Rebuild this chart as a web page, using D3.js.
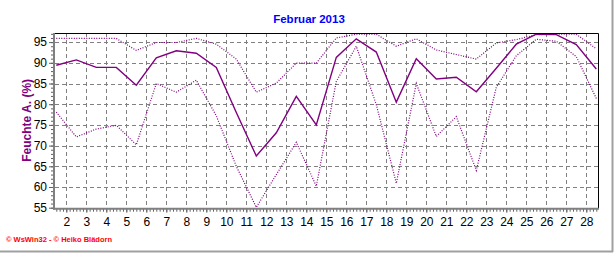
<!DOCTYPE html>
<html>
<head>
<meta charset="utf-8">
<script src="https://cdn.jsdelivr.net/npm/d3@7"></script>
<style>
  body { margin: 0; background: #fff; }
  svg { display: block; font-family: "Liberation Sans", Arial, sans-serif; }
</style>
</head>
<body>
<svg width="616" height="253"></svg>
<script>
const days = [1, 2, 3, 4, 5, 6, 7, 8, 9, 10, 11, 12, 13, 14,
              15, 16, 17, 18, 19, 20, 21, 22, 23, 24, 25, 26, 27, 28];
const humMean = [89.4, 90.7, 88.9, 88.9, 84.6, 91.2, 92.9, 92.3, 88.9, 78.0, 67.5, 73.1, 81.9, 75.0,
                 91.3, 95.8, 92.6, 80.5, 91.0, 86.1, 86.5, 83.0, 88.7, 94.5, 96.9, 96.8, 94.4, 88.5];
const humMax = [95.9, 95.9, 95.9, 95.9, 93.0, 94.9, 94.9, 95.9, 94.5, 90.9, 82.9, 85.1, 89.9, 89.9,
                96.0, 96.9, 96.9, 94.0, 95.8, 93.1, 92.0, 90.9, 94.8, 95.6, 96.8, 96.9, 96.9, 93.4];
const humMin = [78.1, 72.1, 74.0, 74.9, 70.2, 85.0, 82.9, 85.8, 77.2, 65.0, 55.1, 63.0, 70.8, 60.2,
                85.5, 94.0, 79.9, 60.9, 85.0, 72.2, 77.0, 64.0, 84.1, 91.7, 95.7, 95.2, 91.5, 81.4];
const xTicks = [2, 3, 4, 5, 6, 7, 8, 9, 10, 11, 12, 13, 14, 15,
                16, 17, 18, 19, 20, 21, 22, 23, 24, 25, 26, 27, 28];
const yTicks = [55, 60, 65, 70, 75, 80, 85, 90, 95];
const title = 'Februar 2013';
const yAxisLabel = 'Feuchte A. (%)';
const footer = '\u00a9 WsWin32  -  \u00a9 Heiko Bl\u00e4dorn';

(function (d3) {
  'use strict';

  const svg = d3.select('svg');
  const left = 55, right = 598, top = 33, bottom = 207.7;

  const xScale = d3.scaleLinear().domain([1.435, 28.585]).range([left, right]);
  const yScale = d3.scaleLinear().domain([55, 97.2]).range([bottom, top]);

  // outer frame of the picture
  svg.append('line').attr('x1', 612.5).attr('x2', 612.5).attr('y1', 0).attr('y2', 252)
    .attr('stroke', '#a0a0a0').attr('stroke-width', 2);
  svg.append('line').attr('x1', 0).attr('x2', 613).attr('y1', 251.5).attr('y2', 251.5)
    .attr('stroke', '#a0a0a0').attr('stroke-width', 2);

  svg.append('text')
    .attr('x', 309).attr('y', 23)
    .attr('text-anchor', 'middle')
    .attr('fill', '#0000ff')
    .attr('font-weight', 'bold')
    .attr('font-size', 11.5)
    .text(title);

  // grid
  const grid = svg.append('g')
    .attr('stroke', '#808080').attr('stroke-dasharray', '4,3');
  grid.selectAll('.vg').data(xTicks).enter().append('line')
    .attr('x1', d => Math.round(xScale(d)) + 0.5).attr('x2', d => Math.round(xScale(d)) + 0.5)
    .attr('y1', top).attr('y2', bottom);
  grid.selectAll('.hg').data(yTicks.slice(1)).enter().append('line')
    .attr('x1', left).attr('x2', right)
    .attr('y1', d => Math.round(yScale(d)) + 0.5).attr('y2', d => Math.round(yScale(d)) + 0.5);

  // data lines
  const line = values => d3.line()
    .x((d, i) => xScale(d + 0.5))
    .y((d, i) => yScale(values[i]))(days);

  svg.append('path').attr('d', line(humMax))
    .attr('fill', 'none').attr('stroke', '#800080').attr('stroke-width', 1.2)
    .attr('stroke-dasharray', '1,1.5');
  svg.append('path').attr('d', line(humMin))
    .attr('fill', 'none').attr('stroke', '#800080').attr('stroke-width', 1.2)
    .attr('stroke-dasharray', '1,1.5');
  svg.append('path').attr('d', line(humMean))
    .attr('fill', 'none').attr('stroke', '#800080').attr('stroke-width', 1.4);

  // frame top and right
  svg.append('path')
    .attr('d', `M${left},${top + 0.5}H${right + 0.5}V${bottom + 1}`)
    .attr('fill', 'none').attr('stroke', '#000').attr('stroke-width', 1);

  // y axis
  const yAxisG = svg.append('g').attr('transform', `translate(${left - 1},0)`)
    .call(d3.axisLeft(yScale).tickValues(yTicks).tickSize(5).tickPadding(2).tickSizeOuter(0));
  yAxisG.select('.domain').remove();
  yAxisG.selectAll('line').attr('stroke', '#606060');
  yAxisG.selectAll('text').attr('font-size', 12).attr('fill', '#000');

  const yMinorG = svg.append('g').attr('transform', `translate(${left - 1},0)`)
    .call(d3.axisLeft(yScale).tickValues(d3.range(55, 98, 1)).tickSize(3).tickFormat(''));
  yMinorG.select('.domain').remove();
  yMinorG.selectAll('line').attr('stroke', '#606060');

  // x axis
  const xAxisG = svg.append('g').attr('transform', `translate(0,${bottom + 1})`)
    .call(d3.axisBottom(xScale).tickValues(xTicks).tickSize(4).tickPadding(4.5).tickSizeOuter(0));
  xAxisG.select('.domain').remove();
  xAxisG.selectAll('line').attr('stroke', '#606060');
  xAxisG.selectAll('text').attr('font-size', 12).attr('fill', '#000');

  const xMinorG = svg.append('g').attr('transform', `translate(0,${bottom + 1})`)
    .call(d3.axisBottom(xScale).tickValues(d3.range(9, 172).map(k => k / 6)).tickSize(3).tickFormat(''));
  xMinorG.select('.domain').remove();
  xMinorG.selectAll('line').attr('stroke', '#606060');

  // thick grey axis lines
  svg.append('line').attr('x1', left - 1).attr('x2', left - 1).attr('y1', top).attr('y2', bottom + 2)
    .attr('stroke', '#808080').attr('stroke-width', 2);
  svg.append('line').attr('x1', left - 2).attr('x2', right + 1).attr('y1', bottom + 1).attr('y2', bottom + 1)
    .attr('stroke', '#808080').attr('stroke-width', 2);

  svg.append('text')
    .attr('transform', `translate(31,${(top + bottom) / 2}) rotate(-90)`)
    .attr('text-anchor', 'middle')
    .attr('fill', '#800080')
    .attr('font-weight', 'bold')
    .attr('font-size', 12)
    .text(yAxisLabel);

  svg.append('text')
    .attr('x', 6).attr('y', 241.5)
    .attr('fill', '#ff0000')
    .attr('font-weight', 'bold')
    .attr('font-size', 7.5)
    .text(footer);

}(d3));
</script>
</body>
</html>
